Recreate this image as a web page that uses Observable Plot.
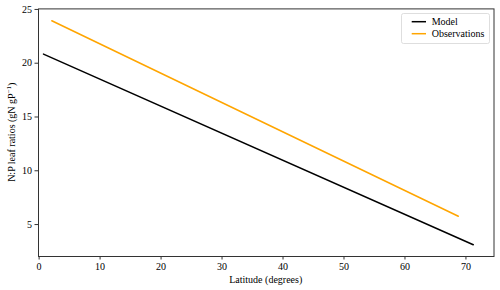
<!DOCTYPE html>
<html><head><meta charset="utf-8">
<script src="https://cdn.jsdelivr.net/npm/d3@7"></script>
<script src="https://cdn.jsdelivr.net/npm/@observablehq/plot@0.6"></script>
<style>body{margin:0;background:#fff} svg text{font-family:"Liberation Serif","Times New Roman",serif !important;}</style>
</head><body><div id="chart"></div>
<script>
const seriesNames = ["Model", "Observations"];
const seriesColors = ["black", "orange"];
const modelLat = [0.72, 71.2];
const modelRatio = [20.85, 3.12];
const obsLat = [2.08, 68.75];
const obsRatio = [23.95, 5.77];
const xTicks = [0, 10, 20, 30, 40, 50, 60, 70];
const yTicks = [5, 10, 15, 20, 25];
const xLabel = "Latitude (degrees)";
const yLabelMain = "N:P leaf ratios (gN gP";
const yLabelSup = "\u22121";
const yLabelEnd = ")";

const data = [
  ...modelLat.map((x, i) => ({series: seriesNames[0], lat: x, ratio: modelRatio[i]})),
  ...obsLat.map((x, i) => ({series: seriesNames[1], lat: x, ratio: obsRatio[i]}))
];

const font = "Liberation Serif, Times New Roman, serif";
const W = 500, H = 290, mL = 38, mR = 6.5, mT = 8.4, mB = 34;
const chart = Plot.plot({
  width: W, height: H,
  marginLeft: mL, marginRight: mR, marginTop: mT, marginBottom: mB,
  style: {fontFamily: font, fontSize: "10px", background: "white", color: "black"},
  x: {domain: [-0.1, 74.6]},
  y: {domain: [2.03, 25.05]},
  color: {domain: seriesNames, range: seriesColors},
  marks: [
    Plot.axisX({ticks: xTicks, tickSize: 3.5, tickPadding: 2.5, label: null, stroke: "#333"}),
    Plot.axisY({ticks: yTicks, tickSize: 3.5, tickPadding: 3, label: null, stroke: "#333"}),
    Plot.line(data, {x: "lat", y: "ratio", z: "series", stroke: "series", strokeWidth: 1.5}),
    Plot.frame({stroke: "#333", strokeWidth: 1})
  ]
});
document.getElementById("chart").appendChild(chart);

const svg = d3.select(chart).attr("font-family", font);
// x label
svg.append("text")
  .attr("x", (mL + W - mR) / 2).attr("y", 283)
  .attr("text-anchor", "middle").attr("font-family", font).attr("font-size", 10)
  .text(xLabel);
// y label
const yl = svg.append("text")
  .attr("transform", `translate(15,${(mT + H - mB) / 2}) rotate(-90)`)
  .attr("text-anchor", "middle").attr("font-family", font).attr("font-size", 10);
yl.append("tspan").text(yLabelMain);
yl.append("tspan").attr("font-size", 7).attr("dy", -4).text(yLabelSup);
yl.append("tspan").attr("dy", 4).text(yLabelEnd);

// legend
const lg = svg.append("g").attr("text-anchor", "start");
lg.append("rect").attr("x", 401.5).attr("y", 13.5).attr("width", 88).attr("height", 30)
  .attr("rx", 2).attr("fill", "white").attr("fill-opacity", 0.8).attr("stroke", "#d6d6d6").attr("stroke-width", 0.8);
seriesNames.forEach((name, i) => {
  const y = 21.7 + i * 12;
  lg.append("line").attr("x1", 411.7).attr("x2", 426).attr("y1", y).attr("y2", y)
    .attr("stroke", seriesColors[i]).attr("stroke-width", 1.5);
  lg.append("text").attr("x", 431.7).attr("y", y + 3.5).attr("text-anchor", "start")
    .attr("font-family", font).attr("font-size", 10).text(name);
});
</script>
</body></html>
